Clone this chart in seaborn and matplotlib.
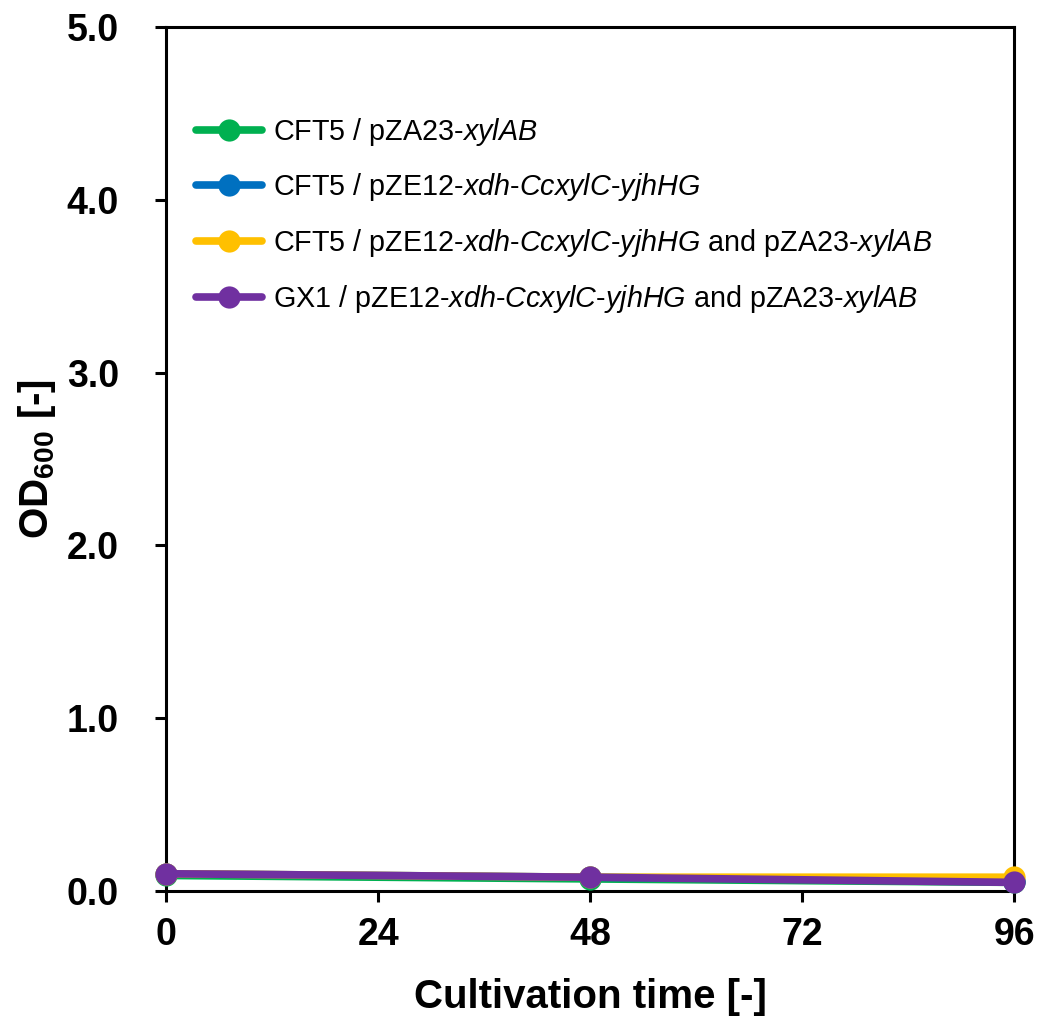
import numpy as np
import pandas as pd
import matplotlib
matplotlib.use("Agg")
import matplotlib.pyplot as plt
import seaborn as sns

# Culture data: OD600 over cultivation time for four strains
time_h = [0, 48, 96]
strains = [
    "CFT5 / pZA23-$\\mathit{xylAB}$",
    "CFT5 / pZE12-$\\mathit{xdh}$-$\\mathit{CcxylC}$-$\\mathit{yjhHG}$",
    "CFT5 / pZE12-$\\mathit{xdh}$-$\\mathit{CcxylC}$-$\\mathit{yjhHG}$ and pZA23-$\\mathit{xylAB}$",
    "GX1 / pZE12-$\\mathit{xdh}$-$\\mathit{CcxylC}$-$\\mathit{yjhHG}$ and pZA23-$\\mathit{xylAB}$",
]
od_cft5_xylab = [0.09, 0.07, 0.05]
od_cft5_xdh = [0.10, 0.08, 0.06]
od_cft5_both = [0.10, 0.08, 0.08]
od_gx1_both = [0.10, 0.08, 0.05]
colors = ["#00B050", "#0070C0", "#FFC000", "#7030A0"]
x_ticks = [0, 24, 48, 72, 96]
y_ticks = [0.0, 1.0, 2.0, 3.0, 4.0, 5.0]

series = [od_cft5_xylab, od_cft5_xdh, od_cft5_both, od_gx1_both]
df = pd.DataFrame(
    [(t, v, s) for s, vals in zip(strains, series) for t, v in zip(time_h, vals)],
    columns=["time", "od", "strain"],
)

sns.set_theme(style="white")
plt.rcParams["font.family"] = ["Liberation Sans", "DejaVu Sans"]
plt.rcParams["mathtext.fontset"] = "custom"
plt.rcParams["mathtext.rm"] = "Liberation Sans"
plt.rcParams["mathtext.it"] = "Liberation Sans:italic"
plt.rcParams["mathtext.bf"] = "Liberation Sans:bold"
plt.rcParams["text.color"] = "black"
plt.rcParams["axes.labelcolor"] = "black"
plt.rcParams["xtick.color"] = "black"
plt.rcParams["ytick.color"] = "black"

fig = plt.figure(figsize=(10.39, 10.21), dpi=100)
ax = fig.add_axes([0.16, 0.1273, 0.816, 0.8463])

sns.lineplot(
    data=df, x="time", y="od", hue="strain", hue_order=strains,
    palette=colors, marker="o", markersize=16, markeredgewidth=0,
    linewidth=5.5, ax=ax, legend=False, clip_on=False, zorder=3,
)

ax.set_xlim(0, 96)
ax.set_ylim(0, 5)
ax.set_xticks(x_ticks)
ax.set_yticks(y_ticks)
ax.set_yticklabels([f"{v:.1f}" for v in y_ticks])
for s in ax.spines.values():
    s.set_color("black")
    s.set_linewidth(2.2)
ax.tick_params(axis="both", direction="out", length=8, width=2.2, color="black",
               labelsize=27, labelcolor="black",
               bottom=True, left=True, right=False, top=False)
ax.tick_params(axis="y", pad=26)
ax.tick_params(axis="x", pad=11)
for lab in ax.get_xticklabels() + ax.get_yticklabels():
    lab.set_fontweight("bold")

ax.set_xlabel("Cultivation time [-]", fontsize=29, fontweight="bold", labelpad=18)
ax.set_ylabel("OD$_{\\mathbf{600}}$ [-]", fontsize=29, fontweight="bold", labelpad=6)

handles = [
    plt.Line2D([], [], color=c, marker="o", markersize=16, markeredgewidth=0, linewidth=5.5)
    for c in colors
]
ax.legend(handles, strains, loc="upper left", bbox_to_anchor=(0.004, 0.927),
          frameon=False, fontsize=20.7, handlelength=2.3, handletextpad=0.4,
          labelspacing=0.82)

fig.savefig("out.png", dpi=100)
